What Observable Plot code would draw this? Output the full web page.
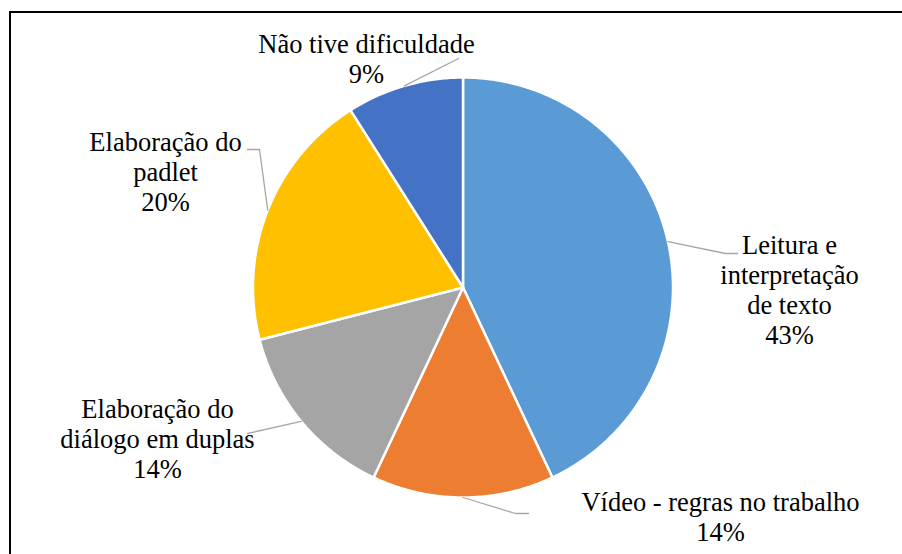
<!DOCTYPE html>
<html>
<head>
<meta charset="utf-8">
<script src="https://cdn.jsdelivr.net/npm/d3@7"></script>
<script src="https://cdn.jsdelivr.net/npm/@observablehq/plot@0.6"></script>
<style>
  html, body { margin: 0; padding: 0; background: #fff; overflow: hidden; font-family: 'Liberation Serif'; }
  #wrap { position: relative; width: 902px; height: 554px; }
  #frame { position: absolute; left: 9px; top: 11px; width: 1000px; height: 1000px; border: 2px solid #000; box-sizing: border-box; pointer-events: none; }
  #chart { position: absolute; left: 0; top: 0; }
  #chart svg text, #chart svg tspan { font-family: 'Liberation Serif' !important; }
</style>
</head>
<body>
<div id="wrap"><div id="chart"></div><div id="frame"></div></div>
<script>
// Data
const categories = ["Leitura e\ninterpretação\nde texto", "Vídeo - regras no trabalho", "Elaboração do\ndiálogo em duplas", "Elaboração do\npadlet", "Não tive dificuldade"];
const values = [43, 14, 14, 20, 9];
const colors = ["#5B9BD5", "#ED7D31", "#A5A5A5", "#FFC000", "#4472C4"];

// Layout (pixels)
const cx = 462.5, cy = 287, R = 210;
const labelPos = [[789, 343], [720, 540], [157, 477], [165, 210], [366, 82]];
const leaderEnds = [
  [[725, 253], [737, 253]],
  [[515, 513], [528, 513]],
  [[247, 433]],
  [[259, 149], [247, 149]],
  [[458, 58]]
];

const total = d3.sum(values);
const slices = [];
const leaders = [];
const labels = [];
let acc = 0;
values.forEach((v, i) => {
  const a0 = acc / total * 2 * Math.PI;
  acc += v;
  const a1 = acc / total * 2 * Math.PI;
  const name = categories[i];
  slices.push({name, x: cx, y: cy});
  const n = Math.max(8, Math.ceil((a1 - a0) / 0.01));
  for (let k = 0; k <= n; k++) {
    const a = a0 + (a1 - a0) * k / n;
    slices.push({name, x: cx + R * Math.sin(a), y: cy - R * Math.cos(a)});
  }
  slices.push({name, x: cx, y: cy});
  const am = (a0 + a1) / 2;
  leaders.push({name, x: cx + R * Math.sin(am), y: cy - R * Math.cos(am)});
  leaderEnds[i].forEach(([x, y]) => leaders.push({name, x, y}));
  labels.push({name, text: name + "\n" + v + "%", x: labelPos[i][0], y: labelPos[i][1]});
});

const chart = Plot.plot({
  width: 902,
  height: 554,
  margin: 0,
  x: {type: "linear", domain: [0, 902], range: [0, 902], axis: null},
  y: {type: "linear", domain: [0, 554], range: [0, 554], axis: null},
  color: {domain: categories, range: colors},
  style: {background: "transparent", fontFamily: "Liberation Serif"},
  marks: [
    Plot.line(slices, {x: "x", y: "y", z: "name", fill: "name", stroke: "#fff", strokeWidth: 2.5, strokeLinejoin: "round", curve: "linear"}),
    Plot.line(leaders, {x: "x", y: "y", z: "name", stroke: "#A6A6A6", strokeWidth: 1.3, curve: "linear"}),
    Plot.text(labels, {x: "x", y: "y", text: "text", lineAnchor: "bottom", lineHeight: 1.13, textAnchor: "middle", fontSize: 26.5, fill: "#000", fontFamily: "Liberation Serif"})
  ]
});
chart.setAttribute("font-family", "Liberation Serif");
d3.select(chart).selectAll("text, tspan").style("font-family", "'Liberation Serif'");
document.getElementById("chart").appendChild(chart);
</script>
</body>
</html>
